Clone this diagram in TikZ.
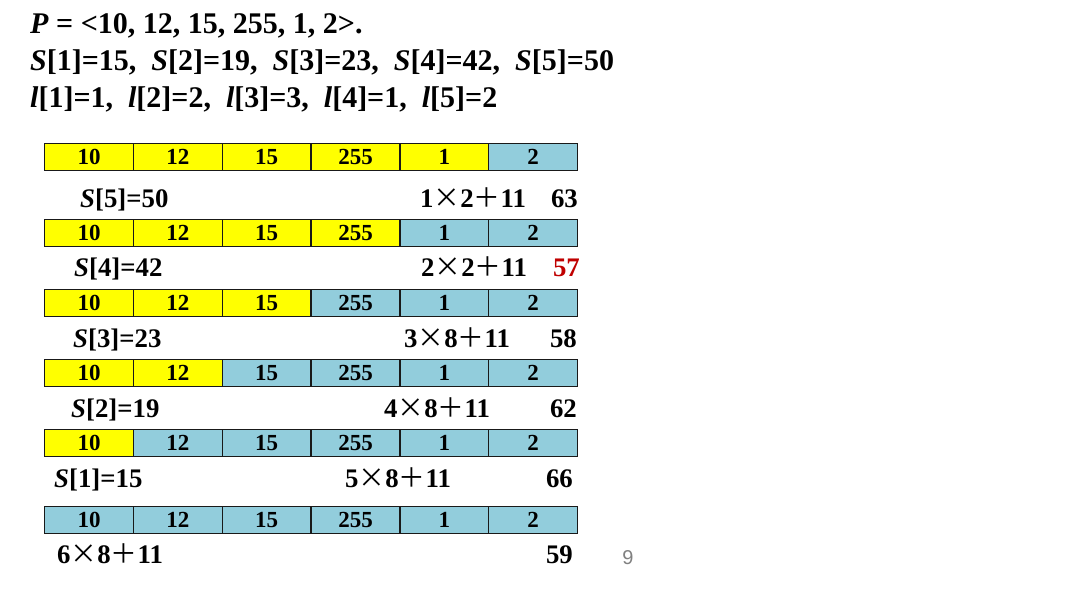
\documentclass[tikz,border=0pt]{standalone}
\usepackage{fontspec}
\setmainfont{Liberation Serif}
\newfontfamily\cjkf{Noto Sans CJK SC}
\newfontfamily\gsans{Liberation Sans}
\definecolor{cy}{RGB}{255,255,0}
\definecolor{cb}{RGB}{146,205,220}
\definecolor{dred}{RGB}{192,0,0}
\newcommand\tms{\makebox[1em]{\cjkf\mdseries ×}}
\newcommand\pls{\makebox[1em]{\cjkf\mdseries ＋}}
\begin{document}
\begin{tikzpicture}[x=1pt,y=-1pt,
  cell/.style={draw=black!90, line width=1.3pt, minimum width=88.83pt, minimum height=27pt,
    inner sep=0pt, font=\fontsize{23}{23}\selectfont\bfseries, anchor=north west},
  hdr/.style={anchor=base west, inner sep=0pt, font=\fontsize{30}{30}\selectfont\bfseries},
  lbl/.style={anchor=base west, inner sep=0pt, font=\fontsize{26.8}{26.8}\selectfont\bfseries},
  val/.style={anchor=base east, inner sep=0pt, font=\fontsize{26.8}{26.8}\selectfont\bfseries},
  pnum/.style={inner sep=0pt, text=black!50, font=\fontsize{20}{20}\selectfont\gsans}]
\useasboundingbox (0,0) rectangle (1080,592);
\fill[white] (0,0) rectangle (1080,592);
% header
\node[hdr] (h1) at (30,33) {\textit{P} = <10, 12, 15, 255, 1, 2>.};
\node[hdr] (h2) at (30,70) {\textit{S}[1]=15,\ \ \textit{S}[2]=19,\ \ \textit{S}[3]=23,\ \ \textit{S}[4]=42,\ \ \textit{S}[5]=50};
\node[hdr] (h3) at (30,107) {\textit{l}[1]=1,\ \ \textit{l}[2]=2,\ \ \textit{l}[3]=3,\ \ \textit{l}[4]=1,\ \ \textit{l}[5]=2};
% cells
\foreach \r/\ty/\ny in {1/143/5, 2/219/4, 3/289/3, 4/359/2, 5/429/1, 6/506/0} {
  \foreach \c/\v in {0/10,1/12,2/15,3/255,4/1,5/2} {
    \ifnum\c<\ny \def\fc{cy}\else\def\fc{cb}\fi
    \node[cell, fill=\fc] (c\r\c) at ({44+\c*88.83},\ty) {\v};
  }
}
% row labels
\node[lbl] (s1) at (80,207) {\textit{S}[5]=50};
\node[lbl] (f1) at (420,207) {1\tms2\pls11};
\node[val] (v1) at (578,207) {63};
\node[lbl] (s2) at (74,276) {\textit{S}[4]=42};
\node[lbl] (f2) at (421,276) {2\tms2\pls11};
\node[val, text=dred] (v2) at (580,276) {57};
\node[lbl] (s3) at (73,347) {\textit{S}[3]=23};
\node[lbl] (f3) at (404,347) {3\tms8\pls11};
\node[val] (v3) at (577,347) {58};
\node[lbl] (s4) at (71,417) {\textit{S}[2]=19};
\node[lbl] (f4) at (384,417) {4\tms8\pls11};
\node[val] (v4) at (577,417) {62};
\node[lbl] (s5) at (54,487) {\textit{S}[1]=15};
\node[lbl] (f5) at (345,487) {5\tms8\pls11};
\node[val] (v5) at (573,487) {66};
\node[lbl] (f6) at (57,563) {6\tms8\pls11};
\node[val] (v6) at (573,563) {59};
\node[pnum] (pg) at (628,558) {9};
\end{tikzpicture}
\end{document}
